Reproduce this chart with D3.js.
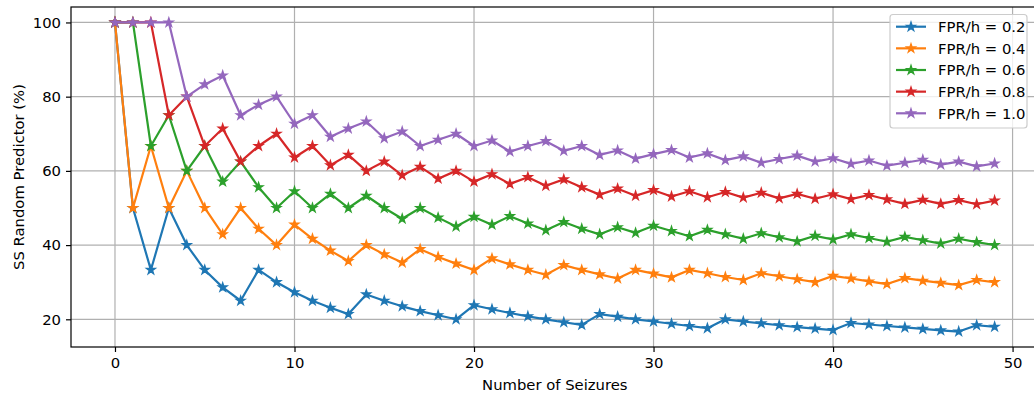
<!DOCTYPE html>
<html>
<head>
<meta charset="utf-8">
<script src="https://cdn.jsdelivr.net/npm/d3@7"></script>
<style>
  html, body { margin: 0; padding: 0; background: #fff; }
  svg { display: block; font-family: "DejaVu Sans", sans-serif; }
</style>
</head>
<body>
<svg id="chart" width="1034" height="396"></svg>
<script>
// Number of seizures on the x axis
const seizures = d3.range(0, 50);

// Sensitivity of a random predictor (%) for each false-prediction rate
const ss02 = [100, 50, 33.3, 50, 40, 33.3, 28.6, 25, 33.3, 30,
  27.3, 25, 23.1, 21.4, 26.7, 25, 23.5, 22.2, 21.1, 20,
  23.8, 22.7, 21.7, 20.8, 20, 19.2, 18.5, 21.4, 20.7, 20,
  19.4, 18.8, 18.2, 17.6, 20, 19.4, 18.9, 18.4, 17.9, 17.5,
  17.1, 19.0, 18.6, 18.2, 17.8, 17.4, 17.0, 16.7, 18.4, 18.0];
const ss04 = [100, 50, 66.7, 50, 60, 50, 42.9, 50, 44.4, 40,
  45.5, 41.7, 38.5, 35.7, 40, 37.5, 35.3, 38.9, 36.8, 35,
  33.3, 36.4, 34.8, 33.3, 32, 34.6, 33.3, 32.1, 31.0, 33.3,
  32.3, 31.3, 33.3, 32.4, 31.4, 30.6, 32.4, 31.6, 30.8, 30,
  31.7, 31.0, 30.2, 29.5, 31.1, 30.4, 29.8, 29.2, 30.6, 30.0];
const ss06 = [100, 100, 66.7, 75, 60, 66.7, 57.1, 62.5, 55.6, 50,
  54.5, 50, 53.8, 50, 53.3, 50, 47.1, 50, 47.4, 45,
  47.6, 45.5, 47.8, 45.8, 44, 46.2, 44.4, 42.9, 44.8, 43.3,
  45.2, 43.8, 42.4, 44.1, 42.9, 41.7, 43.2, 42.1, 41.0, 42.5,
  41.5, 42.9, 41.9, 40.9, 42.2, 41.3, 40.4, 41.7, 40.8, 40.0];
const ss08 = [100, 100, 100, 75, 80, 66.7, 71.4, 62.5, 66.7, 70,
  63.6, 66.7, 61.5, 64.3, 60, 62.5, 58.8, 61.1, 57.9, 60,
  57.1, 59.1, 56.5, 58.3, 56, 57.7, 55.6, 53.6, 55.2, 53.3,
  54.8, 53.1, 54.5, 52.9, 54.3, 52.8, 54.1, 52.6, 53.8, 52.5,
  53.7, 52.4, 53.5, 52.3, 51.1, 52.2, 51.1, 52.1, 51.0, 52.0];
const ss10 = [100, 100, 100, 100, 80, 83.3, 85.7, 75, 77.8, 80,
  72.7, 75, 69.2, 71.4, 73.3, 68.8, 70.6, 66.7, 68.4, 70,
  66.7, 68.2, 65.2, 66.7, 68, 65.4, 66.7, 64.3, 65.5, 63.3,
  64.5, 65.6, 63.6, 64.7, 62.9, 63.9, 62.2, 63.2, 64.1, 62.5,
  63.4, 61.9, 62.8, 61.4, 62.2, 63.0, 61.7, 62.5, 61.2, 62.0];

const seriesLabels = ["FPR/h = 0.2", "FPR/h = 0.4", "FPR/h = 0.6", "FPR/h = 0.8", "FPR/h = 1.0"];
const seriesColors = ["#1f77b4", "#ff7f0e", "#2ca02c", "#d62728", "#9467bd"];
const seriesValues = [ss02, ss04, ss06, ss08, ss10];

const xTicks = [0, 10, 20, 30, 40, 50];
const yTicks = [20, 40, 60, 80, 100];

const svg = d3.select("#chart");
const fontSize = 14.8;

// Plot area (right side runs slightly past the canvas edge)
const plotLeft = 71, plotTop = 7, plotBottom = 347, plotRight = 1038.6;

// Axis limits with a 5% margin on each side
function padded(ext) {
  const m = (ext[1] - ext[0]) * 0.05;
  return [ext[0] - m, ext[1] + m];
}
const x = d3.scaleLinear().domain(padded(d3.extent(seizures))).range([plotLeft, plotRight]);
const y = d3.scaleLinear().domain(padded(d3.extent(seriesValues.flat()))).range([plotBottom, plotTop]);

// Grid lines
const grid = svg.append("g");
grid.selectAll("line.gx").data(xTicks).join("line")
  .attr("class", "gx")
  .attr("x1", d => x(d)).attr("x2", d => x(d))
  .attr("y1", plotTop).attr("y2", plotBottom)
  .attr("stroke", "#b0b0b0").attr("stroke-width", 1.2);
grid.selectAll("line.gy").data(yTicks).join("line")
  .attr("class", "gy")
  .attr("x1", plotLeft).attr("x2", plotRight)
  .attr("y1", d => y(d)).attr("y2", d => y(d))
  .attr("stroke", "#b0b0b0").attr("stroke-width", 1.2);

// Lines and star markers
const line = d3.line().x((d, i) => x(seizures[i])).y(d => y(d));
const starR = 4.45;
const star = d3.symbol().type(d3.symbolStar).size(starR * starR / 0.8908130915292852)();

const plot = svg.append("g");
seriesValues.forEach((vals, s) => {
  const g = plot.append("g");
  g.append("path").datum(vals)
    .attr("d", line)
    .attr("fill", "none")
    .attr("stroke", seriesColors[s])
    .attr("stroke-width", 2.2)
    .attr("stroke-linejoin", "round")
    .attr("stroke-linecap", "square");
  g.selectAll("path.m").data(vals).join("path")
    .attr("class", "m")
    .attr("d", star)
    .attr("transform", (d, i) => `translate(${x(seizures[i])},${y(d)})`)
    .attr("fill", seriesColors[s])
    .attr("stroke", seriesColors[s])
    .attr("stroke-width", 1.4)
    .attr("stroke-linejoin", "miter");
});

// Axes
const xAxis = d3.axisBottom(x).tickValues(xTicks).tickSize(5).tickPadding(5).tickFormat(d3.format("d"));
const yAxis = d3.axisLeft(y).tickValues(yTicks).tickSize(5).tickPadding(5).tickFormat(d3.format("d"));

const gx = svg.append("g").attr("transform", `translate(0,${plotBottom})`).call(xAxis);
const gy = svg.append("g").attr("transform", `translate(${plotLeft},0)`).call(yAxis);
[gx, gy].forEach(g => {
  g.select(".domain").remove();
  g.selectAll(".tick line").attr("stroke", "#000").attr("stroke-width", 1.2);
  g.selectAll(".tick text").attr("fill", "#000").attr("font-size", fontSize)
    .attr("font-family", "DejaVu Sans");
});
gx.selectAll(".tick text").attr("dy", "0.72em");

// Spines
svg.append("rect")
  .attr("x", plotLeft).attr("y", plotTop)
  .attr("width", plotRight - plotLeft).attr("height", plotBottom - plotTop)
  .attr("fill", "none").attr("stroke", "#000").attr("stroke-width", 1.2);

// Axis titles
svg.append("text")
  .attr("x", (plotLeft + plotRight) / 2).attr("y", 389.5)
  .attr("text-anchor", "middle").attr("font-size", fontSize)
  .text("Number of Seizures");
svg.append("text")
  .attr("transform", `translate(24,${(plotTop + plotBottom) / 2}) rotate(-90)`)
  .attr("text-anchor", "middle").attr("font-size", fontSize)
  .text("SS Random Predictor (%)");

// Legend
const legend = svg.append("g");
legend.append("rect")
  .attr("x", 890).attr("y", 14.5).attr("width", 137).attr("height", 113.5)
  .attr("rx", 3).attr("fill", "#fff").attr("fill-opacity", 0.8)
  .attr("stroke", "#cccccc").attr("stroke-width", 1.2);
seriesLabels.forEach((lab, s) => {
  const cy = 26.7 + s * 21.65;
  legend.append("line")
    .attr("x1", 896).attr("x2", 926).attr("y1", cy).attr("y2", cy)
    .attr("stroke", seriesColors[s]).attr("stroke-width", 2.2);
  legend.append("path").attr("d", star)
    .attr("transform", `translate(911,${cy})`)
    .attr("fill", seriesColors[s]).attr("stroke", seriesColors[s]).attr("stroke-width", 1.4);
  legend.append("text")
    .attr("x", 938).attr("y", cy + 5.4)
    .attr("font-size", fontSize).attr("fill", "#000")
    .text(lab);
});
</script>
</body>
</html>
